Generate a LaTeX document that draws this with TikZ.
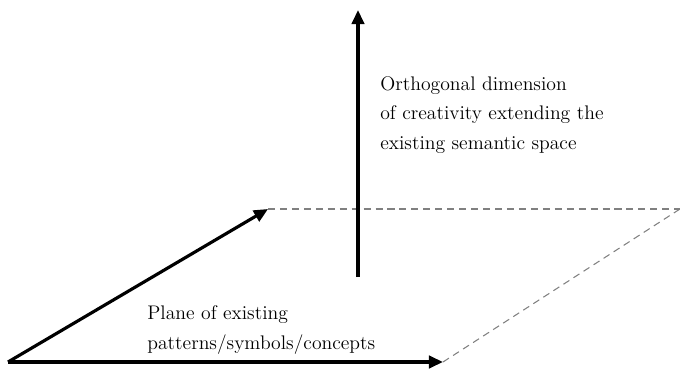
\documentclass[tikz,border=0pt]{standalone}
\usetikzlibrary{arrows.meta,arrows,positioning,calc}

\begin{document}
\begin{tikzpicture}[>={Triangle[length=8pt,width=7pt]},x=0.02cm,y=0.02cm]
	\useasboundingbox (0,0) rectangle (680,369);
	\coordinate (origin) at (8,7);
	\coordinate (axisx) at (443,7);
	\coordinate (axisy) at (268,160);
	\coordinate (corner) at (680,160);
	\coordinate (orthbase) at (358,92);
	\coordinate (orthtip) at (358,359);
	\node (orthtext) [anchor=west,align=left,inner sep=0pt,font=\fontsize{11.2}{17}\selectfont] at (380,254) {Orthogonal dimension\\of creativity extending the\\existing semantic space};
	\node (planetext) [anchor=west,align=left,inner sep=0pt,font=\fontsize{11.2}{17}\selectfont] at (147,39) {Plane of existing\\patterns/symbols/concepts};
	\draw [gray,line width=0.6pt,dash pattern=on 4pt off 2.8pt] (axisy) -- (corner);
	\draw [gray,line width=0.6pt,dash pattern=on 4pt off 2.8pt] (axisx) -- (corner);
	\draw [->,line width=1.8pt] (origin) -- (axisx);
	\draw [->,line width=1.8pt] (origin) -- (axisy);
	\draw [->,line width=1.8pt] (orthbase) -- (orthtip);
\end{tikzpicture}
\end{document}
